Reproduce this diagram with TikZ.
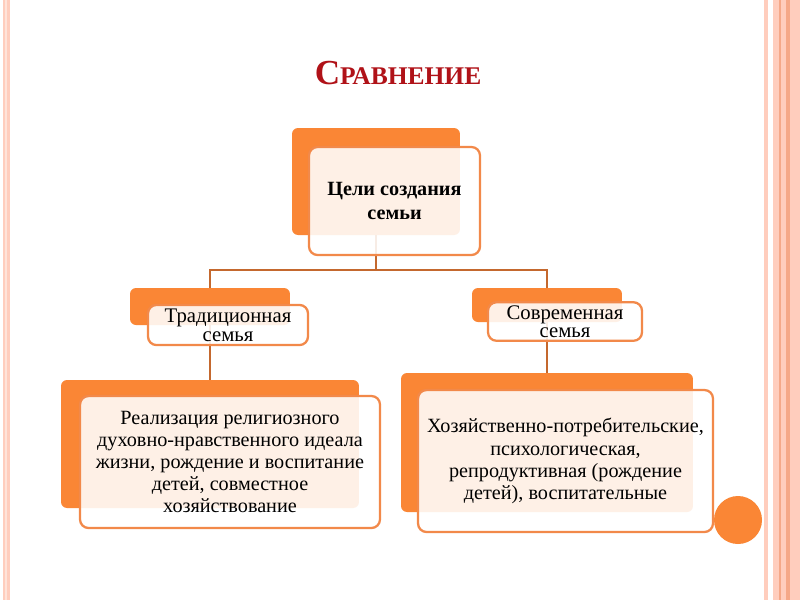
\documentclass[tikz,border=0pt]{standalone}
\usepackage{fontspec}
\setmainfont{Liberation Serif}
\usepackage{xcolor}
\usetikzlibrary{positioning,calc}
\definecolor{flame}{HTML}{FA8635}
\definecolor{edgeorange}{HTML}{F2894A}
\definecolor{linkbrown}{HTML}{C4682E}
\definecolor{titlered}{HTML}{B01218}
\definecolor{bandpink}{HTML}{FFCDBD}
\definecolor{bandlight}{HTML}{FFE3D9}
\definecolor{banddark}{HTML}{F5A888}
\tikzset{
  backbox/.style={fill=flame,rounded corners=0.12cm,inner sep=0pt},
  frontbox/.style={fill=white,fill opacity=0.88,text opacity=1,draw=edgeorange,line width=1.3pt,
                   rounded corners=0.17cm,inner sep=2pt,align=center},
  link/.style={draw=linkbrown,line width=1.3pt},
}
\begin{document}
\begin{tikzpicture}[x=0.02cm,y=-0.02cm]
\useasboundingbox (0,0) rectangle (800,600);
\fill[white] (0,0) rectangle (800,600);
\fill[bandpink] (3,0) rectangle (10,600);
\fill[bandlight] (5,0) rectangle (6.5,600);
\fill[bandpink] (764,0) rectangle (768,600);
\fill[bandpink] (773,0) rectangle (800,600);
\fill[banddark] (779,0) rectangle (781,600);
\fill[banddark] (786,0) rectangle (790,600);
\node (title) at (398,73) {\bfseries\color{titlered}{\fontsize{20}{22}\selectfont С}{\fontsize{14.5}{16}\selectfont РАВНЕНИЕ}};
\node[backbox,minimum width=3.36cm,minimum height=2.14cm] (topback) at (376,181.5) {};
\node[backbox,minimum width=3.2cm,minimum height=0.74cm] (tradback) at (210,306.5) {};
\node[backbox,minimum width=3.0cm,minimum height=0.68cm] (modback) at (547,305) {};
\node[backbox,minimum width=5.96cm,minimum height=2.56cm] (tradgoalback) at (210,444) {};
\node[backbox,minimum width=5.84cm,minimum height=2.78cm] (modgoalback) at (547,442.5) {};
\coordinate (fork) at (376,270);
\draw[link] (topback.south) -- (fork);
\draw[link] (fork) -| (tradback.north);
\draw[link] (fork) -| (modback.north);
\draw[link] (tradback.south) -- (tradgoalback.north);
\draw[link] (modback.south) -- (modgoalback.north);
\node[frontbox,minimum width=3.42cm,minimum height=2.16cm,font=\bfseries\fontsize{11.5}{14}\selectfont] (top) at (394.5,201) {Цели создания\\семьи};
\node[frontbox,minimum width=3.2cm,minimum height=0.8cm,font=\fontsize{11.8}{11}\selectfont] (trad) at (228,325) {Традиционная\\семья};
\node[frontbox,minimum width=3.08cm,minimum height=0.74cm,font=\fontsize{11.8}{10}\selectfont] (mod) at (565,321.5) {Современная\\семья};
\node[frontbox,minimum width=6.0cm,minimum height=2.64cm,font=\fontsize{11.5}{12.6}\selectfont] (tradgoal) at (230,462) {Реализация религиозного\\духовно-нравственного идеала\\жизни, рождение и воспитание\\детей, совместное\\хозяйствование};
\node[frontbox,minimum width=5.9cm,minimum height=2.84cm,font=\fontsize{11.5}{12.6}\selectfont] (modgoal) at (565.5,461) {Хозяйственно-потребительские,\\психологическая,\\репродуктивная (рождение\\детей), воспитательные};
\fill[flame] (738,520) circle (24);
\end{tikzpicture}
\end{document}
